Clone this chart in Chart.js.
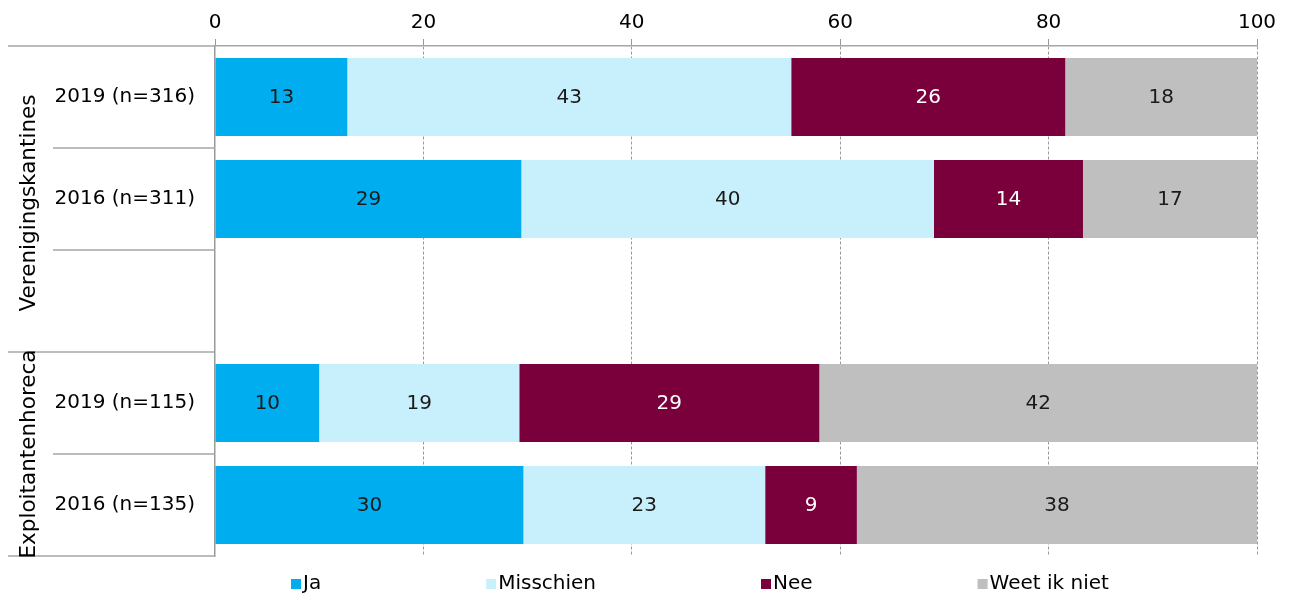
<!DOCTYPE html>
<html>
<head>
<meta charset="utf-8">
<script src="https://cdn.jsdelivr.net/npm/chart.js@4"></script>
<style>
  html, body { margin: 0; padding: 0; background: #fff; }
  #wrap { width: 1290px; height: 598px; }
</style>
</head>
<body>
<div id="wrap"><canvas id="myChart" width="1290" height="598"></canvas></div>
<script>
const categories = ['2019 (n=316)', '2016 (n=311)', '', '2019 (n=115)', '2016 (n=135)']
const groups = [
  { label: 'Verenigingskantines', from: 0, to: 2 },
  { label: 'Exploitantenhoreca', from: 3, to: 4 }
]
const ja = [12.7, 29.4, null, 10.0, 29.6]
const misschien = [42.6, 39.6, null, 19.2, 23.2]
const nee = [26.3, 14.3, null, 28.8, 8.8]
const weetIkNiet = [18.4, 16.7, null, 42.0, 38.4]
const xTicks = [0, 20, 40, 60, 80, 100]

const FONT = 'DejaVu Sans'
const lineColor = '#a6a6a6'

// values in the bars
const barLabels = {
  id: 'barLabels',
  afterDatasetsDraw(chart) {
    const ctx = chart.ctx
    ctx.save()
    ctx.font = '20px "' + FONT + '"'
    ctx.textAlign = 'center'
    ctx.textBaseline = 'middle'
    chart.data.datasets.forEach((ds, i) => {
      const meta = chart.getDatasetMeta(i)
      meta.data.forEach((bar, j) => {
        const v = ds.data[j]
        if (v == null) return
        const p = bar.getCenterPoint()
        ctx.fillStyle = ds.labelColor
        ctx.fillText(Math.round(v), p.x, p.y + 1)
      })
    })
    ctx.restore()
  }
}

// row separators + group labels on the left
const groupAxis = {
  id: 'groupAxis',
  afterDraw(chart) {
    const ctx = chart.ctx
    const y = chart.scales.y
    const area = chart.chartArea
    const step = y.getPixelForValue(1) - y.getPixelForValue(0)
    const starts = groups.map(g => g.from)
    ctx.save()
    ctx.strokeStyle = lineColor
    ctx.lineWidth = 1.5
    for (let i = 0; i <= categories.length; i++) {
      const py = y.getPixelForValue(0) - step / 2 + i * step
      const outer = i === 0 || i === categories.length || starts.includes(i)
      ctx.beginPath()
      ctx.moveTo(outer ? 8 : 53, py)
      ctx.lineTo(area.left, py)
      ctx.stroke()
    }
    ctx.fillStyle = '#000'
    ctx.font = '21.5px "' + FONT + '"'
    ctx.textAlign = 'center'
    ctx.textBaseline = 'middle'
    groups.forEach((g, k) => {
      const top = y.getPixelForValue(g.from) - step / 2
      const bottom = y.getPixelForValue(g.to) + step / 2
      ctx.save()
      ctx.translate(29, (top + bottom) / 2 + (k === 0 ? 4 : 0))
      ctx.rotate(-Math.PI / 2)
      ctx.fillText(g.label, 0, 0)
      ctx.restore()
    })
    ctx.restore()
  }
}

// legend at the bottom with wide spacing
const bottomLegend = {
  id: 'bottomLegend',
  afterDraw(chart) {
    const ctx = chart.ctx
    ctx.save()
    ctx.font = '20px "' + FONT + '"'
    ctx.textBaseline = 'middle'
    let x = 291
    const cy = 584
    chart.data.datasets.forEach(ds => {
      ctx.fillStyle = ds.backgroundColor
      ctx.fillRect(x, cy - 5, 10, 10)
      ctx.fillStyle = '#000'
      ctx.fillText(ds.label, x + 12, cy)
      x += 12 + ctx.measureText(ds.label).width + 165
    })
    ctx.restore()
  }
}

const ctx = document.getElementById('myChart').getContext('2d')
const myChart = new Chart(ctx, {
  type: 'bar',
  data: {
    labels: categories,
    datasets: [
      { label: 'Ja', data: ja, backgroundColor: '#00aeef', labelColor: '#1a1a1a' },
      { label: 'Misschien', data: misschien, backgroundColor: '#c8effc', labelColor: '#1a1a1a' },
      { label: 'Nee', data: nee, backgroundColor: '#7a003c', labelColor: '#ffffff' },
      { label: 'Weet ik niet', data: weetIkNiet, backgroundColor: '#bfbfbf', labelColor: '#1a1a1a' }
    ]
  },
  plugins: [barLabels, groupAxis, bottomLegend],
  options: {
    indexAxis: 'y',
    responsive: false,
    animation: false,
    barPercentage: 0.765,
    categoryPercentage: 1,
    layout: { padding: { left: 0, right: 33, top: 0, bottom: 42 } },
    plugins: {
      legend: { display: false },
      tooltip: { enabled: false }
    },
    scales: {
      x: {
        position: 'top',
        stacked: true,
        min: 0,
        max: 100,
        afterBuildTicks: s => { s.ticks = xTicks.map(v => ({ value: v })) },
        afterFit: s => { s.height = 46 },
        ticks: { color: '#000', font: { family: FONT, size: 20 }, padding: 4, maxRotation: 0 },
        grid: {
          color: c => (c.tick && c.tick.value === 0) ? 'rgba(0,0,0,0)' : '#999999',
          tickColor: '#999999',
          tickBorderDash: [],
          tickLength: 7,
          lineWidth: 1
        },
        border: { display: true, color: lineColor, width: 1.5, dash: [3, 2] }
      },
      y: {
        stacked: true,
        afterFit: s => { s.width = 215 },
        ticks: { color: '#000', font: { family: FONT, size: 20 }, padding: 20 },
        grid: { display: false, drawTicks: false },
        border: { display: true, color: '#999999', width: 1.5 }
      }
    }
  }
})
</script>
</body>
</html>
